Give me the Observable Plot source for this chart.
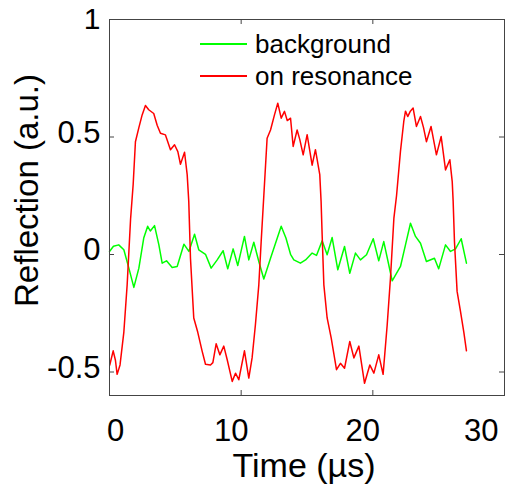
<!DOCTYPE html>
<html>
<head>
<meta charset="utf-8">
<script src="https://cdn.jsdelivr.net/npm/d3@7"></script>
<script src="https://cdn.jsdelivr.net/npm/@observablehq/plot@0.6"></script>
<style>
  html, body { margin: 0; padding: 0; background: #fff; }
  #wrap { position: relative; width: 505px; height: 487px; font-family: "Liberation Sans", Arial, sans-serif; }
  .leg { position: absolute; left: 200px; display: flex; align-items: center; font-size: 26px; color: #000; white-space: nowrap; line-height: 30px; }
  .leg span.sw { display: inline-block; width: 47px; height: 2px; margin-right: 8px; }
</style>
</head>
<body>
<div id="wrap"></div>
<script>
// ---- data (time in µs, reflection in a.u.) ----
const greenT = [0.0,0.3,0.7,1.09,1.47,1.85,2.23,2.6,2.9,3.1,3.42,3.75,4.0,4.33,4.76,5.14,5.65,6.03,6.46,6.78,7.29,7.72,8.18,8.63,8.98,9.39,9.74,10.25,10.58,10.96,11.34,11.72,12.23,13.04,13.4,13.75,14.0,14.5,14.89,15.39,15.72,16.15,16.53,16.91,17.34,17.85,18.25,18.68,19.06,19.52,20.03,20.45,20.83,21.29,21.47,22.1,22.48,22.86,23.24,23.62,24.07,24.68,25.0,25.52,25.9,26.28,26.71,27.11];
const greenV = [0.013,0.035,0.041,0.02,-0.058,-0.14,-0.058,0.07,0.12,0.10,0.123,0.041,-0.037,-0.027,-0.055,-0.051,0.044,0.013,0.086,0.02,0.001,-0.058,-0.023,0.016,-0.061,0.024,-0.047,0.077,-0.023,0.052,-0.03,-0.104,-0.016,0.12,0.07,0.001,-0.023,-0.037,-0.023,0.006,-0.004,0.058,-0.001,0.072,-0.065,0.034,-0.08,0.006,-0.023,-0.001,0.067,-0.027,0.055,-0.065,-0.112,-0.051,0.041,0.133,0.077,0.048,-0.03,-0.016,-0.061,0.041,0.013,0.024,0.067,-0.037];

const redT = [0.02,0.28,0.45,0.58,0.8,1.09,1.34,1.6,1.8,1.97,2.23,2.48,2.73,2.98,3.36,3.62,3.87,4.25,4.63,4.94,5.19,5.39,5.7,5.9,6.02,6.15,6.4,6.7,7.03,7.29,7.67,7.85,8.1,8.38,8.68,8.94,9.32,9.57,9.82,10.25,10.58,10.83,11.08,11.34,11.52,11.72,11.97,12.23,12.53,12.78,13.04,13.29,13.5,13.75,13.95,14.25,14.45,14.71,15.01,15.39,15.64,15.97,16.07,16.15,16.28,16.53,16.84,17.24,17.54,17.85,18.25,18.56,18.94,19.37,19.77,20.08,20.45,20.78,21.09,21.34,21.6,21.8,22.1,22.35,22.48,22.65,22.85,23.06,23.31,23.62,23.85,24.07,24.42,24.83,25.19,25.52,25.85,26.03,26.1,26.2,26.4,26.66,26.91,27.11];
const redV = [-0.47,-0.41,-0.45,-0.51,-0.47,-0.33,-0.13,0.15,0.3,0.48,0.54,0.594,0.634,0.616,0.60,0.55,0.516,0.509,0.446,0.467,0.438,0.384,0.435,0.34,0.226,-0.016,-0.27,-0.33,-0.41,-0.467,-0.47,-0.46,-0.38,-0.427,-0.39,-0.448,-0.54,-0.505,-0.533,-0.41,-0.526,-0.44,-0.3,-0.129,0.055,0.25,0.495,0.53,0.594,0.644,0.58,0.609,0.57,0.58,0.46,0.53,0.49,0.424,0.51,0.38,0.446,0.34,0.226,0.084,-0.129,-0.27,-0.356,-0.49,-0.463,-0.484,-0.37,-0.44,-0.39,-0.548,-0.47,-0.505,-0.427,-0.51,-0.3,-0.1,0.155,0.25,0.44,0.566,0.61,0.587,0.61,0.623,0.545,0.587,0.54,0.48,0.545,0.424,0.502,0.36,0.403,0.31,0.226,0.055,-0.157,-0.243,-0.33,-0.41];

const xTicks = [0, 10, 20, 30];
const yTicks = [-0.5, 0, 0.5, 1];
const seriesNames = ["background", "on resonance"];
const seriesColors = ["#00ff00", "#ff0000"];
const xTitle = "Time (µs)";
const yTitle = "Reflection (a.u.)";

const green = greenT.map((t, i) => ({t, v: greenV[i]}));
const red = redT.map((t, i) => ({t, v: redV[i]}));

const W = 505, H = 487, mL = 109, mR = 1, mT = 19, mB = 92;
const fw = W - mL - mR, fh = H - mT - mB;
const tick = 5;
const fmt = d => String(d);

const chart = Plot.plot({
  width: W, height: H,
  marginLeft: mL, marginRight: mR, marginTop: mT, marginBottom: mB,
  x: {domain: [0, 30]},
  y: {domain: [-0.6, 1]},
  style: {fontFamily: '"Liberation Sans", Arial, sans-serif', background: "#fff", color: "#000"},
  marks: [
    Plot.line(green, {x: "t", y: "v", stroke: seriesColors[0], strokeWidth: 1.5}),
    Plot.line(red, {x: "t", y: "v", stroke: seriesColors[1], strokeWidth: 1.5}),
    Plot.frame({stroke: "#444", strokeWidth: 1}),
    // inward ticks
    Plot.ruleX(xTicks, {x: d => d, insetTop: fh - tick, stroke: "#444"}),
    Plot.ruleX(xTicks, {x: d => d, insetBottom: fh - tick, stroke: "#444"}),
    Plot.ruleY(yTicks, {y: d => d, insetRight: fw - tick, stroke: "#444"}),
    Plot.ruleY(yTicks, {y: d => d, insetLeft: fw - tick, stroke: "#444"}),
    // tick labels
    Plot.axisX([0], {tickSize: 0, tickPadding: 23, fontSize: 31, dx: 6, tickFormat: fmt, label: null}),
    Plot.axisX([10, 20], {tickSize: 0, tickPadding: 23, fontSize: 31, dx: -10, tickFormat: fmt, label: null}),
    Plot.axisX([30], {tickSize: 0, tickPadding: 23, fontSize: 31, textAnchor: "end", dx: -6, tickFormat: fmt, label: null}),
    Plot.axisY([-0.5, 0, 0.5], {tickSize: 0, tickPadding: 9, fontSize: 31, dy: -4, tickFormat: fmt, label: null}),
    Plot.axisY([1], {tickSize: 0, tickPadding: 9, fontSize: 30, dy: 0, tickFormat: fmt, label: null}),
    // axis titles
    Plot.text([xTitle], {text: d => d, frameAnchor: "bottom", textAnchor: "middle", lineAnchor: "bottom", dy: 81, dx: -3, fontSize: 34, fill: "#000"}),
    Plot.text([yTitle], {text: d => d, frameAnchor: "left", textAnchor: "middle", lineAnchor: "middle", rotate: -90, dx: -82, dy: -17, fontSize: 33, fill: "#000"})
  ]
});

const wrap = document.getElementById("wrap");
wrap.appendChild(chart);

// legend (overlay inside the axes, top)
const legTops = [29, 61];
seriesNames.forEach((name, i) => {
  const d = document.createElement("div");
  d.className = "leg";
  d.style.top = legTops[i] + "px";
  const sw = document.createElement("span");
  sw.className = "sw";
  sw.style.background = seriesColors[i];
  d.appendChild(sw);
  d.appendChild(document.createTextNode(name));
  wrap.appendChild(d);
});
</script>
</body>
</html>
